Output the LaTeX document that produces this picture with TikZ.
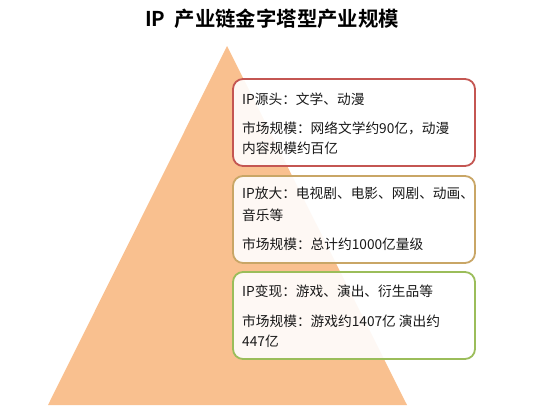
\documentclass[tikz,border=0pt]{standalone}
\usepackage{fontspec}
\setmainfont{Noto Sans CJK SC}
\newfontfamily\cjk{Noto Sans CJK SC}
\newfontfamily\cjkbold{Noto Sans CJK SC Bold}
\definecolor{peach}{RGB}{249,192,143}
\definecolor{redb}{RGB}{196,86,82}
\definecolor{goldb}{RGB}{201,166,102}
\definecolor{greenb}{RGB}{155,189,90}
\definecolor{txt}{RGB}{25,25,25}
\tikzset{
  infobox/.style={draw, line width=1.8pt, rounded corners=10pt, fill=white, fill opacity=0.9,
    minimum width=242pt, minimum height=87pt, inner sep=0pt},
  line/.style={anchor=base west, inner sep=0pt, font=\cjk\fontsize{13.7pt}{16pt}\selectfont, text=txt},
}
\begin{document}
\begin{tikzpicture}[x=1pt,y=-1pt]
\useasboundingbox (0,0) rectangle (537,410);
% title
\node[inner sep=0pt, font=\cjkbold\fontsize{20.4pt}{22pt}\selectfont, text=black] (title) at (272,19) {IP\ \ 产业链金字塔型产业规模};
% pyramid
\coordinate (apex) at (227,46);
\coordinate (bl) at (48,405);
\coordinate (br) at (407,405);
\fill[peach] (apex) -- (bl) -- (br) -- cycle;
% boxes
\node[infobox, draw=redb] (box1) at (354,122.5) {};
\node[infobox, draw=goldb] (box2) at (354,219.5) {};
\node[infobox, draw=greenb] (box3) at (354,315.5) {};
% box 1 text
\node[line] (t11) at (242,104) {IP源头：文学、动漫};
\node[line] (t12) at (242,133) {市场规模：网络文学约90亿，动漫};
\node[line] (t13) at (242,153) {内容规模约百亿};
% box 2 text
\node[line] (t21) at (242,198) {IP放大：电视剧、电影、网剧、动画、};
\node[line] (t22) at (242,220) {音乐等};
\node[line] (t23) at (242,249) {市场规模：总计约1000亿量级};
% box 3 text
\node[line] (t31) at (242,296) {IP变现：游戏、演出、衍生品等};
\node[line] (t32) at (242,326) {市场规模：游戏约1407亿 演出约};
\node[line] (t33) at (242,346) {447亿};
\end{tikzpicture}
\end{document}
